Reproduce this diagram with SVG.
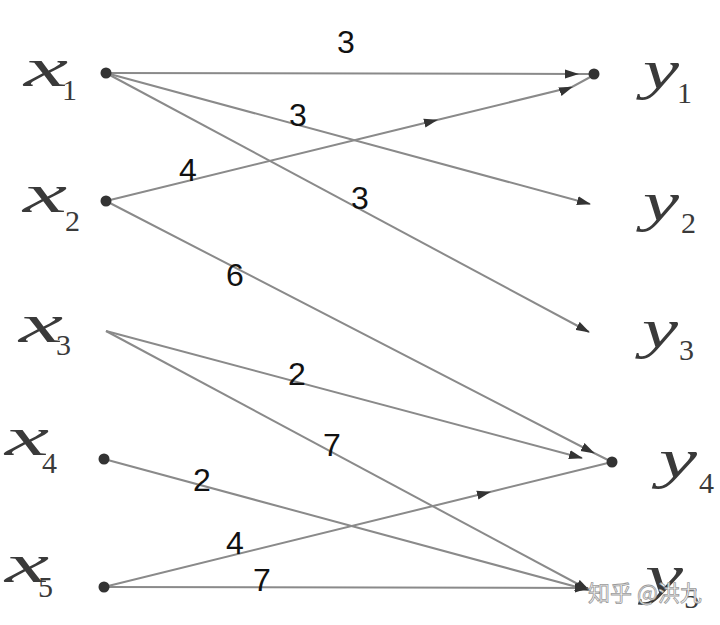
<svg xmlns="http://www.w3.org/2000/svg" width="720" height="625" viewBox="0 0 720 625">
<style>
.e{fill:none;stroke:#8a8a8a;stroke-width:2}
.d{fill:#333}
.v{font-family:"Liberation Serif",serif;font-style:italic;font-size:54px;fill:#3a3a3a}
.s{font-family:"Liberation Serif",serif;font-size:30px;fill:#3a3a3a}
.w{font-family:"Liberation Sans",Arial,sans-serif;font-size:32px;fill:#111;text-anchor:middle}
.wm{font-family:"Noto Sans CJK SC",sans-serif;font-size:22px;fill:#fff;stroke:#9a9a9a;stroke-width:0.8}
</style>
<defs>
<marker id="a" markerUnits="userSpaceOnUse" markerWidth="14" markerHeight="10" refX="13" refY="5" orient="auto">
<path d="M0,0.5 L14,5 L0,9.5 z" fill="#333"/>
</marker>
</defs>
<rect width="720" height="625" fill="#fff"/>
<g id="connectors">
<path class="e" d="M106 73 L578 74 L594 74" marker-mid="url(#a)"/>
<path class="e" d="M106 73 L590 204" marker-end="url(#a)"/>
<path class="e" d="M106 73 L589 332" marker-end="url(#a)"/>
<path class="e" d="M106 201 L437 120 L572 87 L594 75" marker-mid="url(#a)"/>
<path class="e" d="M106 201 L594 453 L612 462" marker-mid="url(#a)"/>
<path class="e" d="M106 331 L582 458" marker-end="url(#a)"/>
<path class="e" d="M106 331 L589 590" marker-end="url(#a)"/>
<path class="e" d="M104 459 L588 590" marker-end="url(#a)"/>
<path class="e" d="M104 587 L490 492 L612 462" marker-mid="url(#a)"/>
<path class="e" d="M104 587 L588 588" marker-end="url(#a)"/>
</g>
<g id="weights">
<text class="w" x="346" y="53">3</text>
<text class="w" x="298" y="126">3</text>
<text class="w" x="360" y="209">3</text>
<text class="w" x="188" y="181">4</text>
<text class="w" x="235" y="286">6</text>
<text class="w" x="297" y="385">2</text>
<text class="w" x="332" y="456">7</text>
<text class="w" x="202" y="491">2</text>
<text class="w" x="235" y="554">4</text>
<text class="w" x="262" y="591">7</text>
</g>
<g id="x1"><circle class="d" cx="106" cy="73" r="5.5"/><text class="v" x="24" y="86" textLength="44" lengthAdjust="spacingAndGlyphs">x</text><text class="s" x="62" y="100">1</text></g>
<g id="x2"><circle class="d" cx="106" cy="201" r="5.5"/><text class="v" x="23" y="212" textLength="44" lengthAdjust="spacingAndGlyphs">x</text><text class="s" x="65" y="231">2</text></g>
<g id="x3"><text class="v" x="19" y="342" textLength="44" lengthAdjust="spacingAndGlyphs">x</text><text class="s" x="56" y="355">3</text></g>
<g id="x4"><circle class="d" cx="104" cy="459" r="5.5"/><text class="v" x="5" y="455" textLength="44" lengthAdjust="spacingAndGlyphs">x</text><text class="s" x="42" y="473">4</text></g>
<g id="x5"><circle class="d" cx="104" cy="587" r="5.5"/><text class="v" x="5" y="582" textLength="44" lengthAdjust="spacingAndGlyphs">x</text><text class="s" x="38" y="597">5</text></g>
<g id="y1"><circle class="d" cx="594" cy="74" r="5.5"/><text class="v" x="643" y="88" textLength="36" lengthAdjust="spacingAndGlyphs">y</text><text class="s" x="677" y="103">1</text></g>
<g id="y2"><text class="v" x="643" y="220" textLength="36" lengthAdjust="spacingAndGlyphs">y</text><text class="s" x="681" y="233">2</text></g>
<g id="y3"><text class="v" x="642" y="347" textLength="36" lengthAdjust="spacingAndGlyphs">y</text><text class="s" x="679" y="360">3</text></g>
<g id="y4"><circle class="d" cx="612" cy="462" r="5.5"/><text class="v" x="659" y="477" textLength="38" lengthAdjust="spacingAndGlyphs">y</text><text class="s" x="699" y="493">4</text></g>
<g id="y5"><text class="v" x="645" y="593" textLength="38" lengthAdjust="spacingAndGlyphs">y</text><text class="s" x="684" y="608">5</text></g>
<text class="wm" x="588" y="601">知乎 @洪九</text>
</svg>
